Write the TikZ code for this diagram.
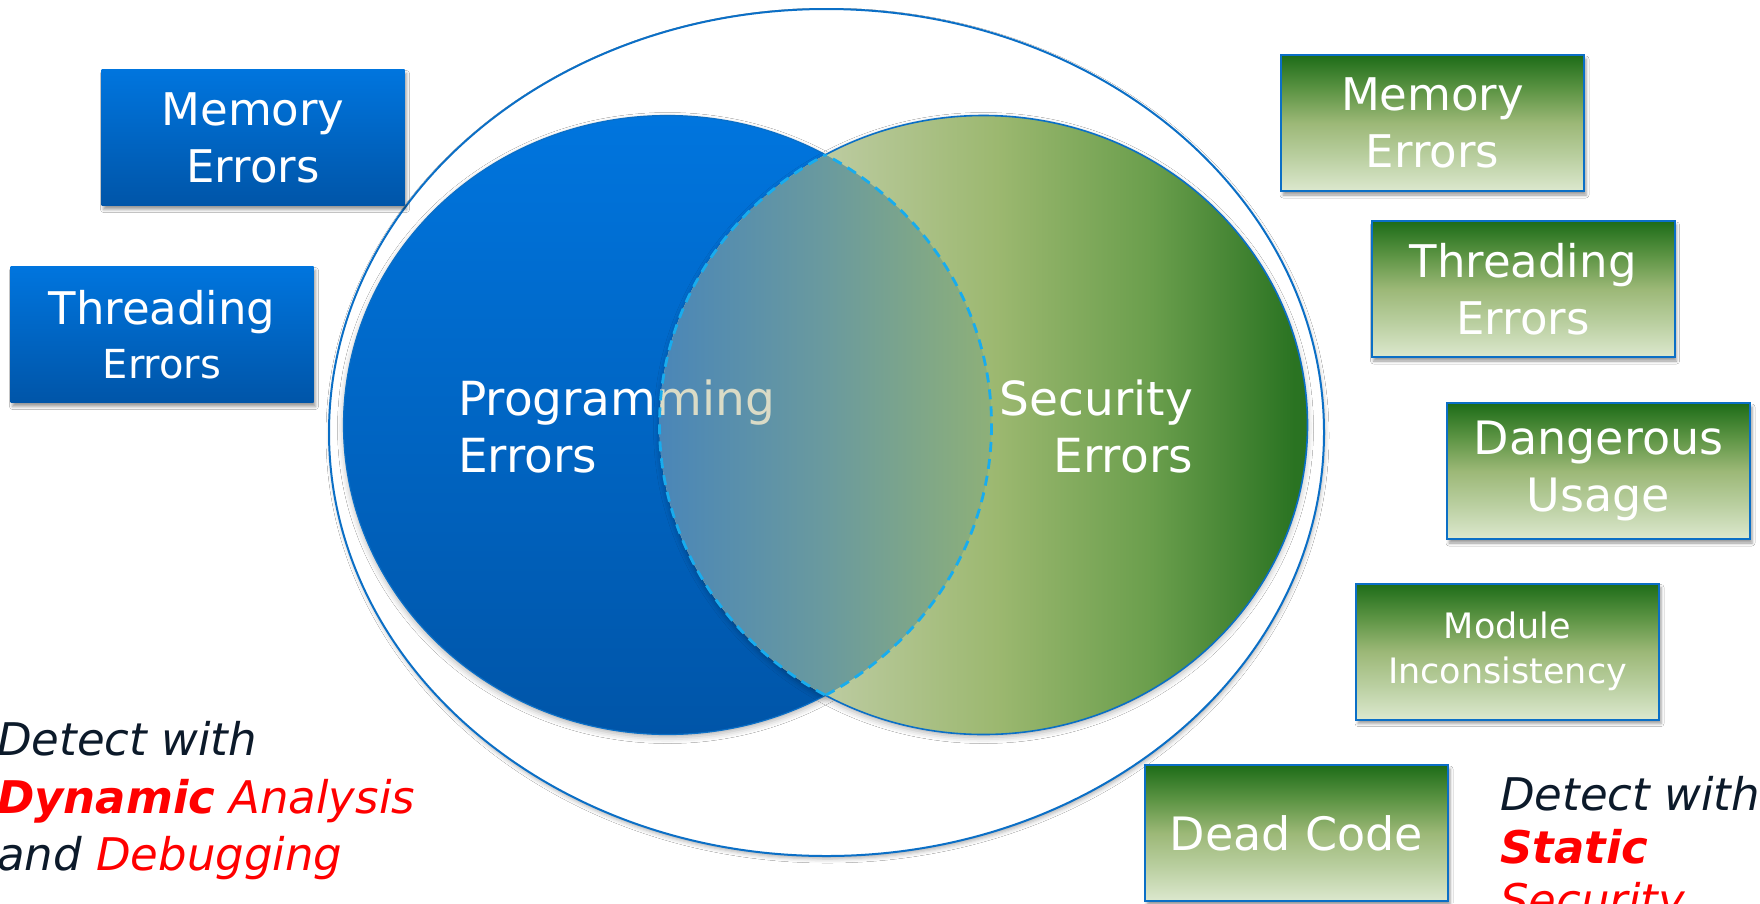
\documentclass[tikz,border=0pt]{standalone}
\usepackage{fontspec}
\setmainfont{DejaVu Sans}[BoldFont={DejaVu Sans Bold},ItalicFont={DejaVu Sans Oblique},BoldItalicFont={DejaVu Sans Bold Oblique}]
\usetikzlibrary{shadows.blur}

% palette
\definecolor{rim}{HTML}{0B6FC6}
\definecolor{lensline}{HTML}{18ACEE}
\definecolor{bTop}{HTML}{0075DE}
\definecolor{bBot}{HTML}{0055A8}
\definecolor{gb1}{HTML}{DCE8CE}
\definecolor{gb2}{HTML}{BBD0A2}
\definecolor{gb3}{HTML}{9CB877}
\definecolor{gb4}{HTML}{5E9545}
\definecolor{gb5}{HTML}{1D6C18}
\definecolor{go1}{HTML}{D2DCC2}
\definecolor{go2}{HTML}{BCCBA0}
\definecolor{go3}{HTML}{9CB870}
\definecolor{go4}{HTML}{6A9E4C}
\definecolor{go5}{HTML}{2A7322}
\definecolor{ln1}{HTML}{4A86B8}
\definecolor{ln2}{HTML}{6A9A9E}
\definecolor{ln3}{HTML}{8EB078}
\definecolor{tint}{HTML}{DADBC6}
\definecolor{ink}{HTML}{0C1A2A}
\definecolor{alert}{HTML}{FF0000}

% shadings
\pgfdeclareverticalshading{bluefill}{100bp}{color(0bp)=(bBot); color(25bp)=(bBot); color(75bp)=(bTop); color(100bp)=(bTop)}
\pgfdeclareverticalshading{greenbox}{100bp}{color(0bp)=(gb1); color(25bp)=(gb1); color(37bp)=(gb2); color(50bp)=(gb3); color(62bp)=(gb4); color(75bp)=(gb5); color(100bp)=(gb5)}
\pgfdeclarehorizontalshading{greenoval}{100bp}{color(0bp)=(go1); color(25bp)=(go1); color(38bp)=(go2); color(51bp)=(go3); color(63bp)=(go4); color(74bp)=(go5); color(100bp)=(go5)}
\pgfdeclarehorizontalshading{lensfill}{100bp}{color(0bp)=(ln1); color(25bp)=(ln1); color(50bp)=(ln2); color(75bp)=(ln3); color(100bp)=(ln3)}

% the three ovals
\newcommand{\outeroval}{(826.5,432.5) ellipse [x radius=497.5, y radius=423.5]}
\newcommand{\blueoval}{(667.5,425) ellipse [x radius=324, y radius=309.5]}
\newcommand{\greenoval}{(983.5,425) ellipse [x radius=324, y radius=309.5]}

\tikzset{
  boxshadow/.style={blur shadow={shadow xshift=2pt, shadow yshift=-4pt, shadow blur radius=3pt, shadow opacity=40}},
  anybox/.style={minimum width=303pt, minimum height=136pt, inner sep=0pt, text=white, align=center,
    font=\fontsize{45pt}{57pt}\selectfont, boxshadow},
  bluebox/.style={anybox, shade, shading=bluefill},
  greenbox/.style={anybox, shade, shading=greenbox, draw=rim, line width=2pt},
  ovaltext/.style={inner sep=0pt, text=white, font=\fontsize{47pt}{57pt}\selectfont},
  note/.style={inner sep=0pt, text=ink, font=\fontsize{45pt}{55pt}\selectfont\itshape},
  lensdash/.style={draw=lensline, line width=2.8pt, dash pattern=on 10pt off 7pt},
}

\begin{document}
\begin{tikzpicture}[x=1pt,y=-1pt]
\useasboundingbox (0,0) rectangle (1760,903);
\clip (0,0) rectangle (1760,903);
\fill[white] (0,0) rectangle (1760,903);

% enclosing oval
\path[fill=white, blur shadow={shadow xshift=1pt, shadow yshift=-3pt, shadow blur radius=4pt, shadow opacity=30}] \outeroval;
\draw[rim, line width=2pt] \outeroval;

% programming errors oval
\path[shade, shading=bluefill, blur shadow={shadow xshift=0pt, shadow yshift=-3pt, shadow blur radius=6pt, shadow opacity=30}] \blueoval;
\draw[rim, line width=1.2pt] \blueoval;
\node[ovaltext, anchor=base west] (prog1) at (458,415) {Programming};
\node[ovaltext, anchor=base west] (prog2) at (458,472) {Errors};

% security errors oval
\path[shade, shading=greenoval, blur shadow={shadow xshift=0pt, shadow yshift=-3pt, shadow blur radius=6pt, shadow opacity=30}] \greenoval;
\begin{scope}[even odd rule]
  \clip (0,0) rectangle (1760,903) \blueoval;
  \draw[rim, line width=1.6pt] \greenoval;
\end{scope}

% overlap of the two ovals
\begin{scope}
  \clip \blueoval;
  \clip \greenoval;
  \shade[shading=lensfill] (659,110) rectangle (992,740);
  \node[ovaltext, text=tint, anchor=base west] (progtint) at (458,415) {Programming};
\end{scope}
\begin{scope}
  \clip \greenoval;
  \draw[lensdash] \blueoval;
\end{scope}
\begin{scope}
  \clip \blueoval;
  \draw[lensdash] \greenoval;
\end{scope}

\node[ovaltext, anchor=base east] (sec1) at (1193,415) {Security};
\node[ovaltext, anchor=base east] (sec2) at (1193,472) {Errors};

% dynamic-analysis findings
\node[bluebox] (lmem) at (253,137.5) {Memory\\Errors};
\node[bluebox] (lthr) at (162,334.5) {Threading\\[-3pt]{\fontsize{40pt}{52pt}\selectfont Errors}};

% static-analysis findings
\node[greenbox] (rmem) at (1432.5,123) {Memory\\Errors};
\node[greenbox] (rthr) at (1523,289) {Threading\\Errors};
\node[greenbox, font=\fontsize{46pt}{57pt}\selectfont] (rdan) at (1598.5,471) {Dangerous\\Usage};
\node[greenbox, font=\fontsize{35pt}{45pt}\selectfont] (rmod) at (1507.5,651.5) {Module\\Inconsistency};
\node[greenbox, font=\fontsize{46pt}{57pt}\selectfont] (rdead) at (1296.5,833) {Dead Code};

% captions
\node[note, anchor=base west] (dl1) at (-3,755) {Detect with};
\node[note, anchor=base west] (dl2) at (-3,813) {\textcolor{alert}{\bfseries Dynamic} \textcolor{alert}{Analysis}};
\node[note, anchor=base west] (dl3) at (-3,870) {and \textcolor{alert}{Debugging}};

\node[note, anchor=base west] (sl1) at (1500,810) {Detect with};
\node[note, anchor=base west] (sl2) at (1500,863) {\textcolor{alert}{\bfseries Static}};
\node[note, anchor=base west] (sl3) at (1500,916) {\textcolor{alert}{Security}};
\end{tikzpicture}
\end{document}
